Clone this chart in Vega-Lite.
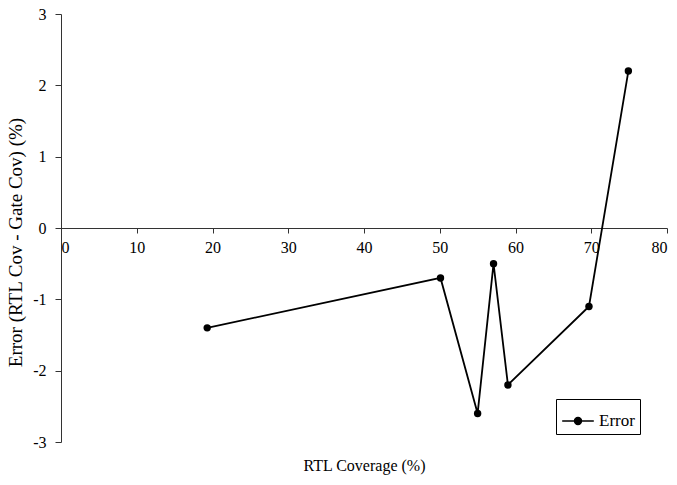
{
  "$schema": "https://vega.github.io/schema/vega-lite/v6.json",
  "width": 606,
  "height": 428,
  "autosize": {"type": "none"},
  "padding": {"left": 61, "top": 14, "right": 10, "bottom": 43},
  "background": "white",
  "config": {
    "view": {"stroke": null},
    "font": "Liberation Serif",
    "axis": {
      "grid": false,
      "labelFont": "Liberation Serif",
      "titleFont": "Liberation Serif",
      "labelFontSize": 16,
      "titleFontSize": 16,
      "titleFontWeight": "normal",
      "labelColor": "black",
      "titleColor": "black",
      "domainColor": "#333",
      "tickColor": "#333",
      "tickSize": 5,
      "labelExpr": "'' + datum.value"
    },
    "legend": {
      "labelFont": "Liberation Serif",
      "labelFontSize": 17,
      "labelColor": "black"
    }
  },
  "data": {
    "values": [
      {"cov": 19.3, "err": -1.4, "series": "Error"},
      {"cov": 50.1, "err": -0.7, "series": "Error"},
      {"cov": 55.0, "err": -2.6, "series": "Error"},
      {"cov": 57.1, "err": -0.5, "series": "Error"},
      {"cov": 59.0, "err": -2.2, "series": "Error"},
      {"cov": 69.7, "err": -1.1, "series": "Error"},
      {"cov": 74.9, "err": 2.2, "series": "Error"}
    ]
  },
  "encoding": {
    "x": {
      "field": "cov",
      "type": "quantitative",
      "scale": {"domain": [0, 80], "nice": false},
      "axis": {
        "values": [0, 10, 20, 30, 40, 50, 60, 70, 80],
        "offset": -214,
        "tickSize": 5,
        "labelPadding": 6,
        "title": "RTL Coverage (%)",
        "titleBaseline": "middle",
        "titleY": 237
      }
    },
    "y": {
      "field": "err",
      "type": "quantitative",
      "scale": {"domain": [-3, 3], "nice": false},
      "axis": {
        "values": [-3, -2, -1, 0, 1, 2, 3],
        "tickSize": 6,
        "labelPadding": 9,
        "title": "Error (RTL Cov - Gate Cov) (%)",
        "titleFontSize": 19,
        "titleBaseline": "middle",
        "titleX": -46,
        "titleY": 228
      }
    },
    "color": {
      "field": "series",
      "type": "nominal",
      "scale": {"range": ["black"]},
      "legend": {
        "title": null,
        "orient": "none",
        "legendX": 495,
        "legendY": 385,
        "strokeColor": "black",
        "padding": 5,
        "symbolType": "M-1,0L1,0M-0.22,0A0.22,0.22 0 1,1 0.22,0A0.22,0.22 0 1,1 -0.22,0Z",
        "symbolSize": 1000,
        "symbolFillColor": "black",
        "symbolStrokeColor": "black",
        "symbolStrokeWidth": 1.5,
        "labelOffset": 4
      }
    }
  },
  "layer": [
    {"mark": {"type": "line", "strokeWidth": 1.8}},
    {"mark": {"type": "point", "filled": true, "size": 55, "opacity": 1}}
  ]
}
